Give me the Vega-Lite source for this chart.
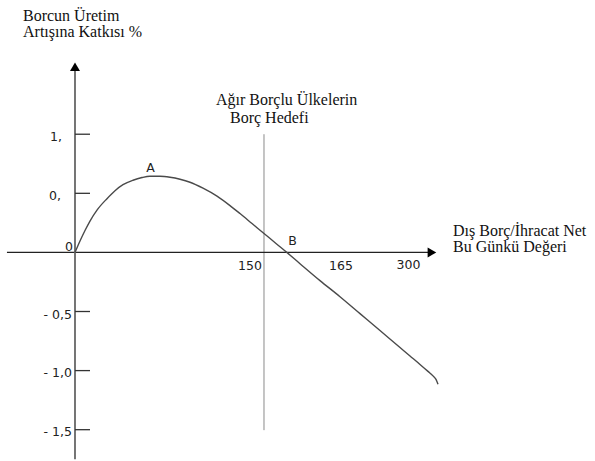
{
  "$schema": "https://vega.github.io/schema/vega-lite/v6.json",
  "width": 595,
  "height": 461,
  "autosize": {"type": "fit", "contains": "padding"},
  "padding": 0,
  "background": "white",
  "config": {"view": {"stroke": null}},
  "datasets": {
    "curve": [
      {"x": 0, "y": 0}, {"x": 3.97, "y": 0.0969}, {"x": 7.94, "y": 0.1853}, {"x": 11.9, "y": 0.2654},
      {"x": 17.46, "y": 0.358}, {"x": 25.4, "y": 0.4549}, {"x": 31.75, "y": 0.5223}, {"x": 38.1, "y": 0.5729},
      {"x": 46.03, "y": 0.6108}, {"x": 53.17, "y": 0.6335}, {"x": 59.52, "y": 0.6445}, {"x": 67.46, "y": 0.6445},
      {"x": 75.4, "y": 0.6361}, {"x": 83.33, "y": 0.6192}, {"x": 91.27, "y": 0.5939}, {"x": 101.59, "y": 0.5434},
      {"x": 112.7, "y": 0.476}, {"x": 123.02, "y": 0.396}, {"x": 130.95, "y": 0.3286}, {"x": 140.48, "y": 0.2443},
      {"x": 150, "y": 0.1601}, {"x": 159.52, "y": 0.0758}, {"x": 169.05, "y": -0.0084}, {"x": 178.57, "y": -0.0952},
      {"x": 194.44, "y": -0.2384}, {"x": 210.32, "y": -0.3749}, {"x": 226.19, "y": -0.5181}, {"x": 242.06, "y": -0.6613},
      {"x": 257.94, "y": -0.8045}, {"x": 265.87, "y": -0.8761}, {"x": 273.81, "y": -0.9478}, {"x": 280.16, "y": -1.0067},
      {"x": 284.13, "y": -1.0447}, {"x": 286.51, "y": -1.0741}, {"x": 288.1, "y": -1.1163}
    ],
    "xaxis": [{"x": -54, "y": 0, "x2": 281.7, "y2": 0}],
    "yaxis": [{"x": 0, "y": -1.75, "x2": 0, "y2": 1.55}],
    "yticks": [
      {"x": 0, "x2": 11.9, "y": 1.0}, {"x": 0, "x2": 11.9, "y": 0.5}, {"x": 0, "x2": 11.9, "y": -0.5},
      {"x": 0, "x2": 11.9, "y": -1.0}, {"x": 0, "x2": 11.9, "y": -1.5}
    ],
    "target": [{"x": 150, "y": 1.0, "y2": -1.504}],
    "arrowUp": [{"x": 0, "y": 1.571}],
    "arrowRight": [{"x": 283.3, "y": 0}],
    "titles": [
      {"x": -41.27, "y": 1.9587, "t": "Borcun Üretim"},
      {"x": -41.27, "y": 1.8239, "t": "Artışına Katkısı %"},
      {"x": 111.9, "y": 1.251, "t": "Ağır Borçlu Ülkelerin"},
      {"x": 123.0, "y": 1.099, "t": "Borç Hedefi"},
      {"x": 300.0, "y": 0.139, "t": "Dış Borç/İhracat Net"},
      {"x": 300.0, "y": 0.0042, "t": "Bu Günkü Değeri"}
    ],
    "labels": [
      {"x": 59.92, "y": 0.712, "t": "A"},
      {"x": 172.6, "y": 0.0969, "t": "B"},
      {"x": 138.9, "y": -0.1137, "t": "150"},
      {"x": 211.1, "y": -0.1137, "t": "165"},
      {"x": 264.7, "y": -0.105, "t": "300"},
      {"x": -4.76, "y": 0.046, "t": "0"}
    ],
    "ylabels": [
      {"x": -10.3, "y": 0.973, "t": "1,"},
      {"x": -11.1, "y": 0.476, "t": "0,"},
      {"x": -2.38, "y": -0.5265, "t": "- 0,5"},
      {"x": -2.38, "y": -1.0236, "t": "- 1,0"},
      {"x": -2.38, "y": -1.5206, "t": "- 1,5"}
    ]
  },
  "layer": [
    {
      "data": {"name": "target"},
      "mark": {"type": "rule", "color": "#8a8a8a", "strokeWidth": 1},
      "encoding": {
        "x": {"field": "x", "type": "quantitative", "scale": {"domain": [-59.52, 412.7], "nice": false, "zero": false}, "axis": null},
        "y": {"field": "y", "type": "quantitative", "scale": {"domain": [-1.748, 2.1357], "nice": false, "zero": false}, "axis": null},
        "y2": {"field": "y2"}
      }
    },
    {
      "data": {"name": "xaxis"},
      "mark": {"type": "rule", "color": "#222222", "strokeWidth": 1.3},
      "encoding": {
        "x": {"field": "x", "type": "quantitative"},
        "y": {"field": "y", "type": "quantitative"},
        "x2": {"field": "x2"},
        "y2": {"field": "y2"}
      }
    },
    {
      "data": {"name": "yaxis"},
      "mark": {"type": "rule", "color": "#666666", "strokeWidth": 1.8},
      "encoding": {
        "x": {"field": "x", "type": "quantitative"},
        "y": {"field": "y", "type": "quantitative"},
        "x2": {"field": "x2"},
        "y2": {"field": "y2"}
      }
    },
    {
      "data": {"name": "yticks"},
      "mark": {"type": "rule", "color": "#333333", "strokeWidth": 1.3},
      "encoding": {
        "x": {"field": "x", "type": "quantitative"},
        "x2": {"field": "x2"},
        "y": {"field": "y", "type": "quantitative"}
      }
    },
    {
      "data": {"name": "curve"},
      "mark": {"type": "line", "color": "#4a4a4a", "strokeWidth": 1.4, "interpolate": "monotone"},
      "encoding": {
        "x": {"field": "x", "type": "quantitative"},
        "y": {"field": "y", "type": "quantitative"}
      }
    },
    {
      "data": {"name": "arrowUp"},
      "mark": {"type": "point", "shape": "triangle-up", "filled": true, "color": "#000000", "size": 100, "opacity": 1},
      "encoding": {
        "x": {"field": "x", "type": "quantitative"},
        "y": {"field": "y", "type": "quantitative"}
      }
    },
    {
      "data": {"name": "arrowRight"},
      "mark": {"type": "point", "shape": "triangle-right", "filled": true, "color": "#000000", "size": 100, "opacity": 1},
      "encoding": {
        "x": {"field": "x", "type": "quantitative"},
        "y": {"field": "y", "type": "quantitative"}
      }
    },
    {
      "data": {"name": "titles"},
      "mark": {"type": "text", "font": "Liberation Serif", "fontSize": 16, "align": "left", "baseline": "alphabetic", "color": "#111111"},
      "encoding": {
        "x": {"field": "x", "type": "quantitative"},
        "y": {"field": "y", "type": "quantitative"},
        "text": {"field": "t"}
      }
    },
    {
      "data": {"name": "labels"},
      "mark": {"type": "text", "font": "DejaVu Sans", "fontSize": 12.5, "align": "center", "baseline": "middle", "color": "#222222"},
      "encoding": {
        "x": {"field": "x", "type": "quantitative"},
        "y": {"field": "y", "type": "quantitative"},
        "text": {"field": "t"}
      }
    },
    {
      "data": {"name": "ylabels"},
      "mark": {"type": "text", "font": "DejaVu Sans", "fontSize": 12.5, "align": "right", "baseline": "middle", "color": "#222222"},
      "encoding": {
        "x": {"field": "x", "type": "quantitative"},
        "y": {"field": "y", "type": "quantitative"},
        "text": {"field": "t"}
      }
    }
  ]
}
